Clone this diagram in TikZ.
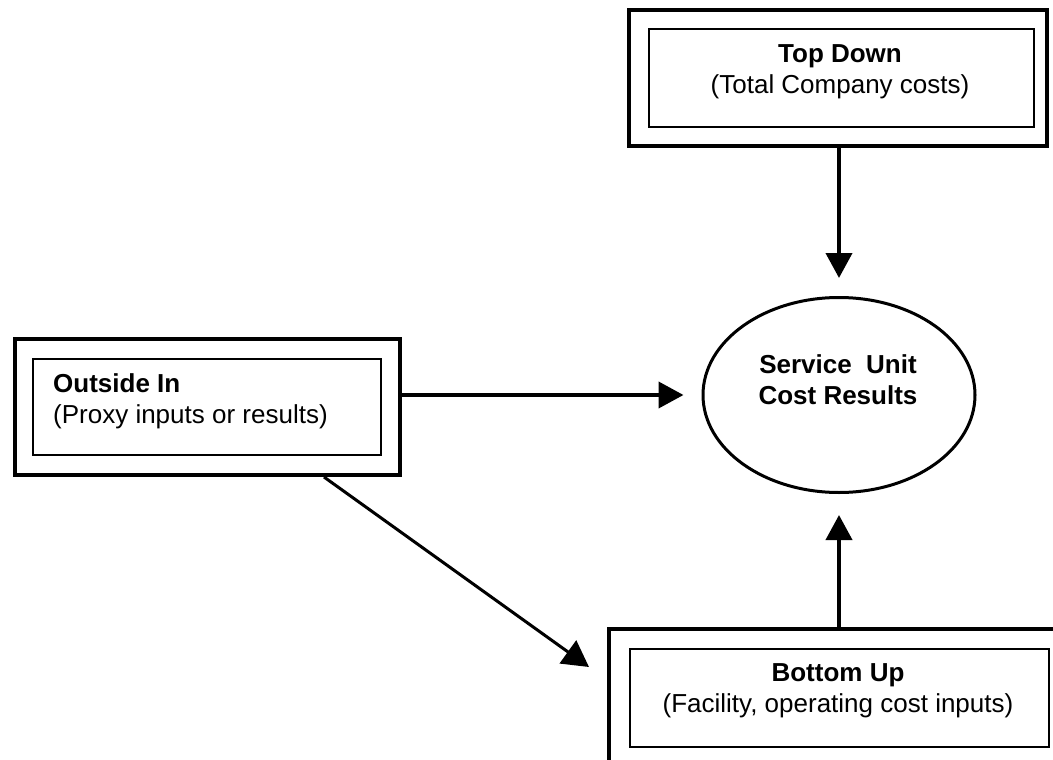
\documentclass[tikz,border=0pt]{standalone}
\usepackage{fontspec}
\setmainfont{Liberation Sans}
\usetikzlibrary{arrows.meta,positioning,calc,shapes.geometric}
\tikzset{outer/.style={draw,line width=4pt,inner sep=0pt,anchor=north west},
         inner/.style={draw,line width=1.6pt,inner sep=0pt,anchor=north west},
         txt/.style={inner sep=0pt,align=center,font=\fontsize{26}{31}\selectfont},
         thick arrow/.style={line width=4pt,-{Triangle[width=26pt,length=25pt]}},
         thin arrow/.style={line width=3pt,-{Triangle[width=28pt,length=26pt]}}}

\begin{document}
\begin{tikzpicture}[x=1pt,y=-1pt]
    \useasboundingbox (0,0) rectangle (1053,760);
    % boxes
    \node [outer,minimum width=418pt,minimum height=136pt] (topdown) at (627,8) {};
    \node [inner,minimum width=385pt,minimum height=98pt] (topin) at (648,28) {};
    \node [outer,minimum width=385pt,minimum height=136pt] (outside) at (13,337) {};
    \node [inner,minimum width=348pt,minimum height=96pt] (outin) at (32,358) {};
    \node [outer,minimum width=480pt,minimum height=160pt] (bottomup) at (607,627) {};
    \node [inner,minimum width=419pt,minimum height=98pt] (botin) at (629,648) {};
    \node [draw,ellipse,line width=3pt,minimum width=272pt,minimum height=195pt] (result) at (839,395) {};
    % texts
    \node [txt] (toptext) at (840,72) {\textbf{Top Down}\\(Total Company costs)};
    \node [txt,align=left,anchor=west] (outtext) at (53,401) {\textbf{Outside In}\\(Proxy inputs or results)};
    \node [txt] (bottext) at (838,691) {\textbf{Bottom Up}\\(Facility, operating cost inputs)};
    \node [txt] (restext) at (838,380) {\textbf{Service\ \ Unit}\\\textbf{Cost Results}};
    % arrows
    \coordinate (diagend) at (589,667);
    \draw [thick arrow,shorten >=18pt] (result.north |- topdown.south) -- (result.north);
    \draw [thick arrow,shorten >=18pt] (outside.east |- result.west) -- (result.west);
    \draw [thick arrow,shorten >=21pt] (result.south |- bottomup.north) -- (result.south);
    \draw [thin arrow] ([xshift=-78pt]outside.south east) -- (diagend);
\end{tikzpicture}
\end{document}
